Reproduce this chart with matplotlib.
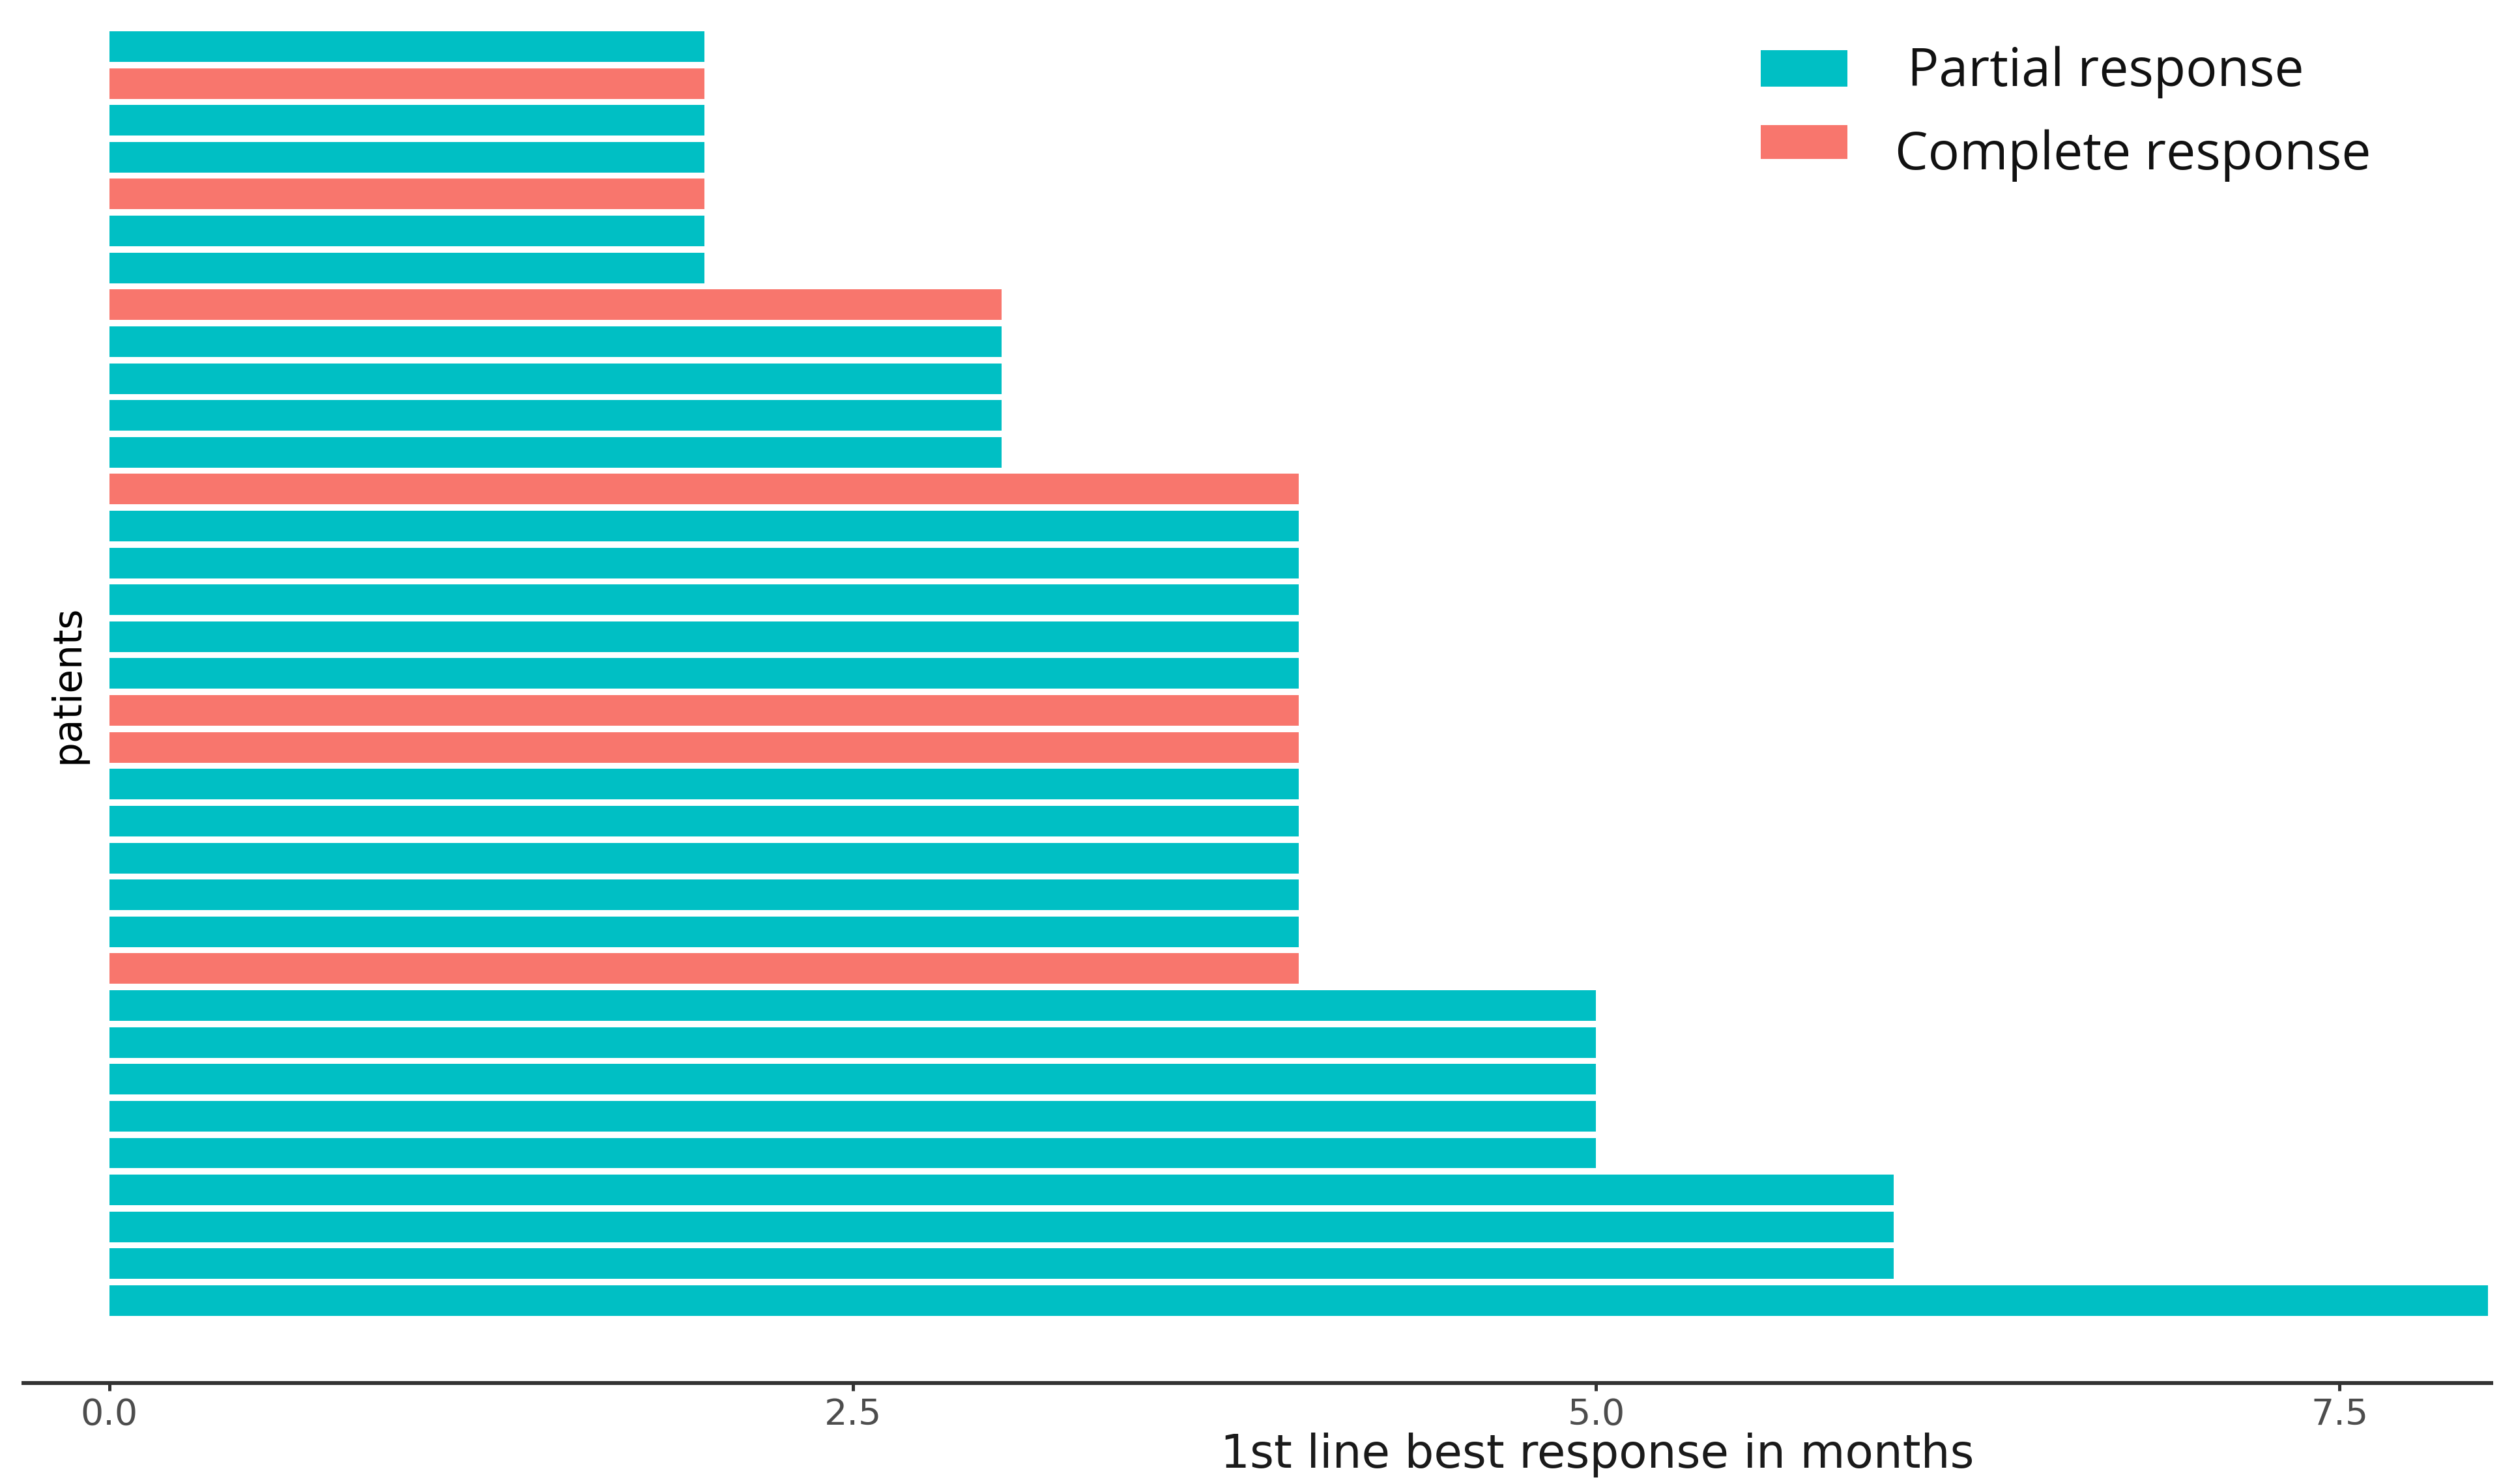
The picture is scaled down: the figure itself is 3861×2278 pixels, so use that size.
import matplotlib
matplotlib.use("Agg")
import matplotlib.pyplot as plt
from matplotlib.patches import Rectangle

W, H, DPI = 3862, 2278, 100

# best response in months, one bar per patient, listed top to bottom
months = [2, 2, 2, 2, 2, 2, 2,
          3, 3, 3, 3, 3,
          4, 4, 4, 4, 4, 4, 4, 4, 4, 4, 4, 4, 4, 4,
          5, 5, 5, 5, 5,
          6, 6, 6,
          8]
response = ["PR", "CR", "PR", "PR", "CR", "PR", "PR",
            "CR", "PR", "PR", "PR", "PR",
            "CR", "PR", "PR", "PR", "PR", "PR", "CR", "CR",
            "PR", "PR", "PR", "PR", "PR", "CR",
            "PR", "PR", "PR", "PR", "PR",
            "PR", "PR", "PR",
            "PR"]

labels = {"PR": "Partial response", "CR": "Complete response"}
colors = {"PR": "#00BFC4", "CR": "#F8766D"}

xticks = [0.0, 2.5, 5.0, 7.5]
xtick_labels = ["0.0", "2.5", "5.0", "7.5"]


def fx(px):
    return px / W


def fy(py):
    return 1 - py / H


fig = plt.figure(figsize=(W / DPI, H / DPI), dpi=DPI)
# axes box in pixels: x 36..3823, y 0..2123
ax = fig.add_axes([fx(36), fy(2123), (3823 - 36) / W, 2123 / H])

ypos = list(range(len(months)))
ax.barh(ypos, months, height=0.83, color=[colors[r] for r in response],
        linewidth=0)

ax.set_xlim(-0.289, 8.01)
ax.set_ylim(36.235, -1.263)

for s in ["top", "right", "left"]:
    ax.spines[s].set_visible(False)
ax.spines["bottom"].set_color("#333333")
ax.spines["bottom"].set_linewidth(4.3)

ax.set_yticks([])
ax.set_xticks(xticks)
ax.set_xticklabels(xtick_labels)
ax.tick_params(axis="x", direction="out", length=8.6, width=3.6,
               color="#333333", labelcolor="#4D4D4D", labelsize=40,
               pad=7)
for t in ax.get_xticklabels():
    t.set_family("DejaVu Sans")

ax.set_xlabel("1st line best response in months", fontsize=51,
              family="DejaVu Sans", color="#1A1A1A", va="center")
ax.xaxis.set_label_coords((2451 - 36) / (3823 - 36), (2123 - 2234) / 2123)

ax.set_ylabel("patients", fontsize=43, family="DejaVu Sans",
              color="black", va="center", ha="center")
ax.yaxis.set_label_coords((104 - 36) / (3823 - 36), (2123 - 1050) / 2123)

# legend drawn by hand to match the placement in the original
legend_rows = [("PR", 77, 133, 2927, 132), ("CR", 192, 244, 2908, 260)]
for key, top, bottom, tx, base in legend_rows:
    fig.add_artist(Rectangle((fx(2702), fy(bottom)), (2835 - 2702) / W,
                             (bottom - top) / H, transform=fig.transFigure,
                             facecolor=colors[key], edgecolor="none"))
    fig.text(fx(tx), fy(base), labels[key], fontsize=58,
             family="Open Sans", color="#111111", va="baseline", ha="left")

fig.savefig("out.png", dpi=DPI)
